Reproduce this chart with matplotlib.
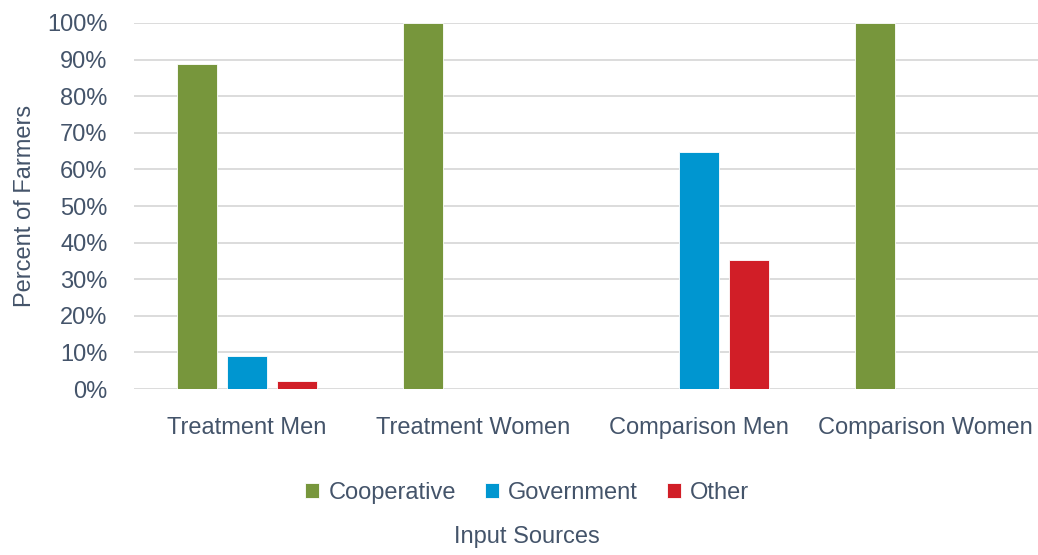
import matplotlib
matplotlib.use('Agg')
import matplotlib.pyplot as plt
import numpy as np
from matplotlib.ticker import PercentFormatter

groups = ['Treatment Men', 'Treatment Women', 'Comparison Men', 'Comparison Women']
series = ['Cooperative', 'Government', 'Other']
cooperative = [88.7, 100, 0, 100]
government = [9.0, 0, 64.8, 0]
other = [2.2, 0, 35.2, 0]
colors = ['#77963c', '#0096d0', '#d11e27']

plt.rcParams['font.family'] = ['Liberation Sans Narrow', 'Liberation Sans', 'DejaVu Sans']
text_color = '#44546a'
fs = 17

fig = plt.figure(figsize=(10.38, 5.55), dpi=100)
ax = fig.add_axes([0.129, 0.299, 0.871, 0.6596])

x = np.arange(len(groups))
width = 0.177
step = 0.221
for i, (name, vals) in enumerate(zip(series, [cooperative, government, other])):
    ax.bar(x + (i - 1) * step, vals, width, color=colors[i], label=name,
           edgecolor='white', linewidth=0.6, zorder=3)

ax.set_xlim(-0.5, 3.5)
ax.set_ylim(0, 100)
ax.set_yticks(np.arange(0, 101, 10))
ax.yaxis.set_major_formatter(PercentFormatter(decimals=0))
ax.set_xticks(x)
ax.set_xticklabels(groups)
ax.grid(True, axis='y', color='#d9d9d9', linewidth=1.3, zorder=0)
for s in ax.spines.values():
    s.set_visible(False)
ax.tick_params(length=0, labelsize=fs, colors=text_color)
ax.tick_params(axis='x', pad=20)
ax.tick_params(axis='y', pad=19)
ax.set_ylabel('Percent of Farmers', fontsize=fs, color=text_color, labelpad=8)

leg = fig.legend(loc='center', bbox_to_anchor=(0.508, 0.112), ncol=3, frameon=False,
                 fontsize=fs, handlelength=0.6, handleheight=0.6, handletextpad=0.4,
                 columnspacing=1.2)
for t in leg.get_texts():
    t.set_color(text_color)
fig.text(0.508, 0.032, 'Input Sources', ha='center', va='center', fontsize=fs, color=text_color)

fig.savefig('out.png', dpi=100)
